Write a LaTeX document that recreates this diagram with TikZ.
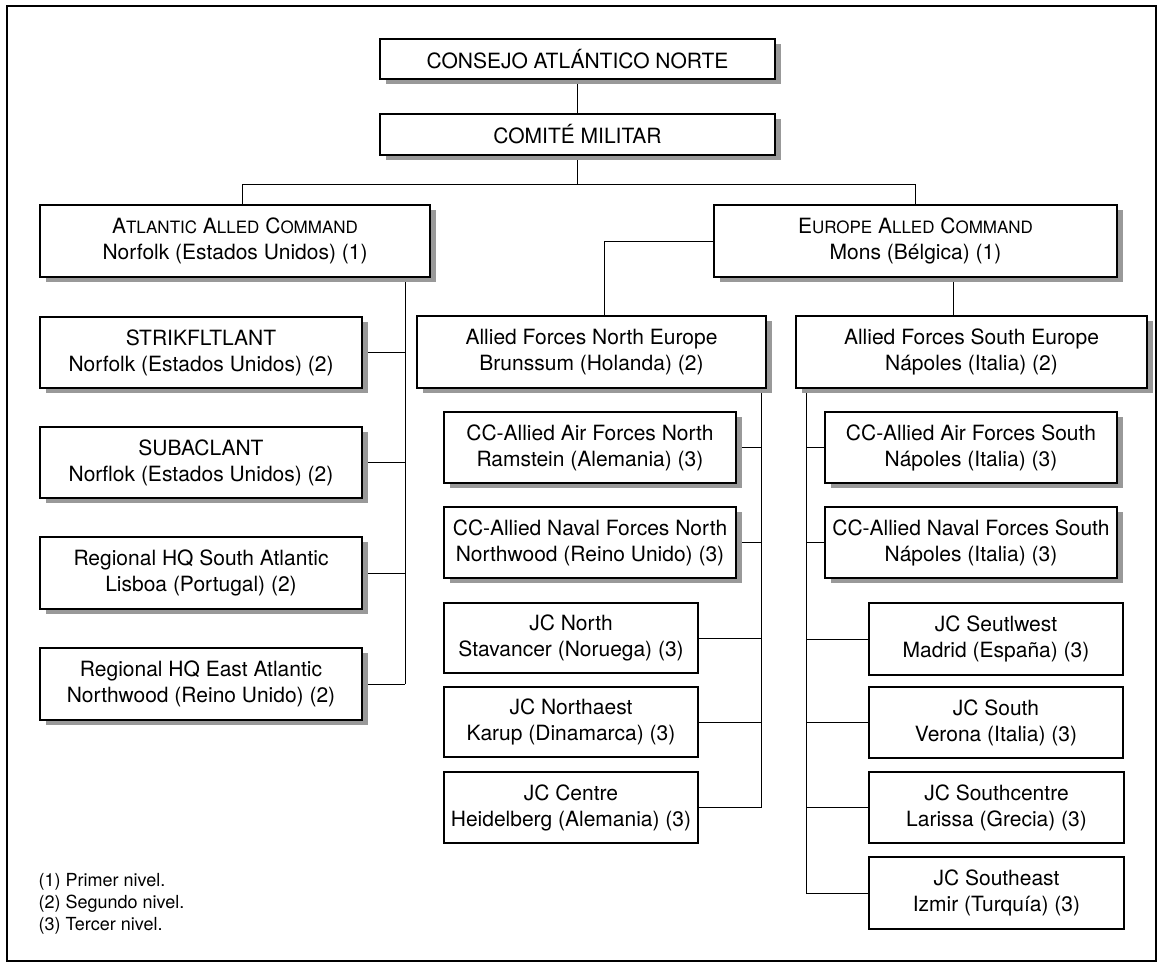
\documentclass[tikz,border=0pt]{standalone}
\usepackage{fontspec}
\setmainfont{TeX Gyre Heros}
\usetikzlibrary{shadows,backgrounds}
\newcommand\fsc[1]{{\fontsize{17}{26}\selectfont #1}}
\newcommand\bx[6]{\node[#1, minimum width=#4pt, minimum height=#5pt] (#2) at (#3) {#6};}
\begin{document}
\begin{tikzpicture}[x=1pt,y=-1pt,line width=1.3pt,
  box/.style={draw=black, line width=1.4pt, fill=white, inner sep=0pt, align=center, font=\fontsize{21}{26}\selectfont},
  shbox/.style={box, drop shadow={shadow xshift=6pt, shadow yshift=-5pt, fill=black!40, opacity=1}},
  legend/.style={inner sep=0pt, font=\fontsize{18}{22}\selectfont}]
\useasboundingbox (0,0) rectangle (1163,964);
\draw[line width=2pt] (7,6) rectangle (1156,961);

\bx{shbox}{consejo}{577.5,59}{395}{40}{CONSEJO ATLÁNTICO NORTE}
\bx{shbox}{comite}{577.5,134.5}{395}{41}{COMITÉ MILITAR}
\bx{shbox}{atl}{235,241}{390}{72}{A\fsc{TLANTIC} A\fsc{LLED} C\fsc{OMMAND}\\Norfolk (Estados Unidos) (1)}
\bx{shbox}{eur}{915.5,241}{403}{72}{E\fsc{UROPE} A\fsc{LLED} C\fsc{OMMAND}\\Mons (Bélgica) (1)}
\bx{shbox}{strik}{201,352.5}{322}{71}{STRIKFLTLANT\\Norfolk (Estados Unidos) (2)}
\bx{shbox}{subac}{201,462.5}{322}{71}{SUBACLANT\\Norflok (Estados Unidos) (2)}
\bx{shbox}{rhqs}{201,573}{322}{72}{Regional HQ South Atlantic\\Lisboa (Portugal) (2)}
\bx{shbox}{rhqe}{201,684}{322}{72}{Regional HQ East Atlantic\\Northwood (Reino Unido) (2)}
\bx{shbox}{afne}{591.5,352}{349}{72}{Allied Forces North Europe\\Brunssum (Holanda) (2)}
\bx{shbox}{afse}{971.5,352}{351}{72}{Allied Forces South Europe\\Nápoles (Italia) (2)}
\bx{shbox}{ccan}{590,447.5}{292}{71}{CC-Allied Air Forces North\\Ramstein (Alemania) (3)}
\bx{shbox}{ccnn}{590,542.5}{292}{71}{CC-Allied Naval Forces North\\Northwood (Reino Unido) (3)}
\bx{box}{jcn}{571,638}{254}{70}{JC North\\Stavancer (Noruega) (3)}
\bx{box}{jcne}{571,722}{254}{70}{JC Northaest\\Karup (Dinamarca) (3)}
\bx{box}{jcc}{571,807.5}{254}{71}{JC Centre\\Heidelberg (Alemania) (3)}
\bx{shbox}{ccas}{971,447.5}{292}{71}{CC-Allied Air Forces South\\Nápoles (Italia) (3)}
\bx{shbox}{ccns}{971,542.5}{292}{71}{CC-Allied Naval Forces South\\Nápoles (Italia) (3)}
\bx{box}{jcsw}{996,639}{254}{72}{JC Seutlwest\\Madrid (España) (3)}
\bx{box}{jcs}{996,722.5}{254}{71}{JC South\\Verona (Italia) (3)}
\bx{box}{jcsc}{996.5,807.5}{255}{71}{JC Southcentre\\Larissa (Grecia) (3)}
\bx{box}{jcse}{996.5,893}{255}{72}{JC Southeast\\Izmir (Turquía) (3)}

\node[legend, anchor=base west] (l1) at (38,886) {(1) Primer nivel.};
\node[legend, anchor=base west] (l2) at (38,908) {(2) Segundo nivel.};
\node[legend, anchor=base west] (l3) at (38,930) {(3) Tercer nivel.};

\begin{pgfonlayer}{background}
\draw (consejo.south) -- (comite.north);
\coordinate (bar) at (0,184);
\draw (comite.south) -- (comite.south |- bar);
\draw ([xshift=203pt]atl.north west) |- (bar -| eur.north) -- (eur.north);
\draw ([xshift=366pt]atl.south west) coordinate (sA) -- (sA |- rhqe.east);
\foreach \n in {strik,subac,rhqs,rhqe} \draw (\n.east) -- (\n.east -| sA);
\draw (eur.west) -| ([xshift=188pt]afne.north west);
\draw ([xshift=240pt]eur.south west) -- ([xshift=158pt]afse.north west);
\draw ([xshift=345pt]afne.south west) coordinate (sM) -- (sM |- jcc.east);
\foreach \n in {ccan,ccnn,jcn,jcne,jcc} \draw (\n.east) -- (\n.east -| sM);
\draw ([xshift=11pt]afse.south west) coordinate (sR) -- (sR |- jcse.west);
\foreach \n in {ccas,ccns,jcsw,jcs,jcsc,jcse} \draw (\n.west) -- (\n.west -| sR);
\end{pgfonlayer}
\end{tikzpicture}
\end{document}
